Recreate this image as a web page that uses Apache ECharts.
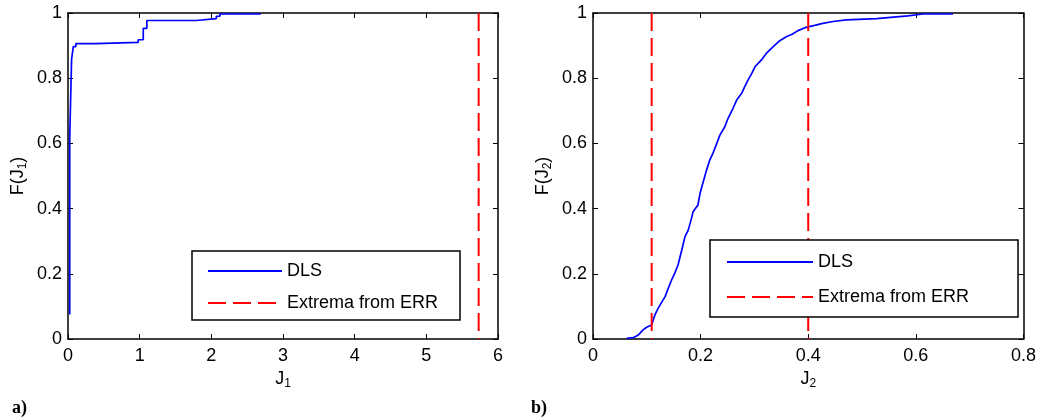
<!DOCTYPE html>
<html>
<head>
<meta charset="utf-8">
<title>Empirical CDFs of J1 and J2</title>
<script src="https://cdn.jsdelivr.net/npm/echarts@6/dist/echarts.min.js"></script>
<style>
  html, body { margin: 0; padding: 0; background: #fff; }
  #chart { width: 1039px; height: 417px; }
</style>
</head>
<body>
<div id="chart"></div>
<script>
// Empirical CDF of J1 (DLS): [jump location, F after jump]
const dlsJ1 = [
  [0.024, 0.075], [0.024, 0.617], [0.05, 0.858], [0.074, 0.897], [0.11, 0.906],
  [0.38, 0.91], [0.98, 0.918], [1.05, 0.953], [1.1, 0.977], [1.79, 0.983],
  [2.07, 0.99], [2.12, 0.997], [2.69, 0.997]
];

// Empirical CDF of J2 (DLS), traced along its fine staircase
const dlsJ2 = [
  [0.0625, 0.002], [0.075, 0.004], [0.084, 0.012], [0.093, 0.028], [0.0997, 0.036],
  [0.109, 0.043], [0.112, 0.058], [0.115, 0.074], [0.121, 0.094], [0.128, 0.114],
  [0.134, 0.13], [0.14, 0.156], [0.146, 0.181], [0.152, 0.202], [0.158, 0.227],
  [0.165, 0.273], [0.171, 0.314], [0.177, 0.334], [0.183, 0.37], [0.186, 0.39],
  [0.195, 0.411], [0.199, 0.447], [0.205, 0.483], [0.211, 0.518], [0.217, 0.549],
  [0.223, 0.57], [0.23, 0.6], [0.236, 0.626], [0.245, 0.651], [0.251, 0.677],
  [0.26, 0.707], [0.267, 0.733], [0.276, 0.753], [0.282, 0.774], [0.288, 0.794],
  [0.295, 0.815], [0.301, 0.835], [0.313, 0.856], [0.322, 0.876], [0.335, 0.897],
  [0.347, 0.915], [0.36, 0.928], [0.37, 0.935], [0.381, 0.946], [0.394, 0.955],
  [0.412, 0.962], [0.427, 0.968], [0.446, 0.974], [0.471, 0.979], [0.527, 0.983],
  [0.585, 0.991], [0.613, 0.997], [0.669, 0.997]
];

// Extrema obtained from ERR
const errJ1 = [5.73];
const errJ2 = [0.109, 0.4];

// Axis ranges and tick steps
const xRangeJ1 = { min: 0, max: 6, interval: 1 };
const xRangeJ2 = { min: 0, max: 0.8, interval: 0.2 };
const yRange = { min: 0, max: 1, interval: 0.2 };

const FONT = '"Liberation Sans", Arial, Helvetica, sans-serif';
const BLUE = '#0000ff';
const RED = '#ff0000';
const DASH = [18, 7];

const richName = {
  a: { fontSize: 18, fontFamily: FONT, color: '#000', lineHeight: 22 },
  s: { fontSize: 12, fontFamily: FONT, color: '#000', verticalAlign: 'bottom' }
};

function bottomAxis(gridIndex, range, name) {
  return {
    type: 'value', gridIndex, position: 'bottom',
    min: range.min, max: range.max, interval: range.interval,
    name, nameLocation: 'middle', nameGap: 29,
    nameTextStyle: { rich: richName },
    axisLine: { show: true, onZero: false, lineStyle: { color: '#000', width: 1.5 } },
    axisTick: { show: true, inside: true, length: 5, lineStyle: { color: '#000', width: 1 } },
    axisLabel: { show: true, margin: 8, color: '#000', fontSize: 18, fontFamily: FONT },
    splitLine: { show: false }
  };
}
function topAxis(gridIndex, range) {
  return {
    type: 'value', gridIndex, position: 'top',
    min: range.min, max: range.max, interval: range.interval,
    axisLine: { show: true, onZero: false, lineStyle: { color: '#000', width: 1.5 } },
    axisTick: { show: true, inside: true, length: 5, lineStyle: { color: '#000', width: 1 } },
    axisLabel: { show: false },
    splitLine: { show: false }
  };
}
function leftAxis(gridIndex, name) {
  return {
    type: 'value', gridIndex, position: 'left',
    min: yRange.min, max: yRange.max, interval: yRange.interval,
    name, nameLocation: 'middle', nameGap: 39, nameRotate: 90,
    nameTextStyle: { rich: richName },
    axisLine: { show: true, onZero: false, lineStyle: { color: '#000', width: 1.5 } },
    axisTick: { show: true, inside: true, length: 5, lineStyle: { color: '#000', width: 1 } },
    axisLabel: { show: true, margin: 6, color: '#000', fontSize: 18, fontFamily: FONT },
    splitLine: { show: false }
  };
}
function rightAxis(gridIndex) {
  return {
    type: 'value', gridIndex, position: 'right',
    min: yRange.min, max: yRange.max, interval: yRange.interval,
    axisLine: { show: true, onZero: false, lineStyle: { color: '#000', width: 1.5 } },
    axisTick: { show: true, inside: true, length: 5, lineStyle: { color: '#000', width: 1 } },
    axisLabel: { show: false },
    splitLine: { show: false }
  };
}

function cdfSeries(axisIndex, data, step) {
  return {
    name: 'DLS', type: 'line', step,
    xAxisIndex: axisIndex, yAxisIndex: axisIndex,
    data, symbol: 'none', silent: true, animation: false,
    lineStyle: { color: BLUE, width: 1.7 }, itemStyle: { color: BLUE }
  };
}
function extremaSeries(axisIndex, x) {
  return {
    name: 'Extrema from ERR', type: 'line',
    xAxisIndex: axisIndex, yAxisIndex: axisIndex,
    data: [[x, yRange.max], [x, yRange.min]],
    symbol: 'none', silent: true, animation: false,
    lineStyle: { color: RED, width: 2, type: DASH }, itemStyle: { color: RED }
  };
}

function legendBox(left, top, itemWidth, itemGap, padding) {
  return {
    left, top, orient: 'vertical', selectedMode: false,
    itemWidth, itemHeight: 18, itemGap, padding,
    backgroundColor: '#fff', borderColor: '#000', borderWidth: 1.5,
    itemStyle: { opacity: 0, borderWidth: 0 },
    textStyle: { fontSize: 18, fontFamily: FONT, color: '#000' },
    data: ['DLS', 'Extrema from ERR']
  };
}

const chart = echarts.init(document.getElementById('chart'), null, { renderer: 'canvas' });

chart.setOption({
  animation: false,
  grid: [
    { left: 68, top: 13, width: 430, height: 326 },
    { left: 593, top: 13, width: 431, height: 326 }
  ],
  xAxis: [
    bottomAxis(0, xRangeJ1, '{a|J}{s|1}'),
    bottomAxis(1, xRangeJ2, '{a|J}{s|2}'),
    topAxis(0, xRangeJ1),
    topAxis(1, xRangeJ2)
  ],
  yAxis: [
    leftAxis(0, '{a|F(J}{s|1}{a|)}'),
    leftAxis(1, '{a|F(J}{s|2}{a|)}'),
    rightAxis(0),
    rightAxis(1)
  ],
  legend: [
    legendBox(192, 251, 74, 14, [11, 22, 8, 15]),
    legendBox(710, 240, 86, 17, [13, 49, 11, 16])
  ],
  series: [
    cdfSeries(0, dlsJ1, 'end'),
    ...errJ1.map(x => extremaSeries(0, x)),
    cdfSeries(1, dlsJ2, false),
    ...errJ2.map(x => extremaSeries(1, x))
  ],
  graphic: [
    { type: 'text', left: 12, top: 399,
      style: { text: 'a)', font: 'bold 18px "Liberation Serif", "Times New Roman", serif', fill: '#000' } },
    { type: 'text', left: 531, top: 399,
      style: { text: 'b)', font: 'bold 18px "Liberation Serif", "Times New Roman", serif', fill: '#000' } }
  ]
});
</script>
</body>
</html>
